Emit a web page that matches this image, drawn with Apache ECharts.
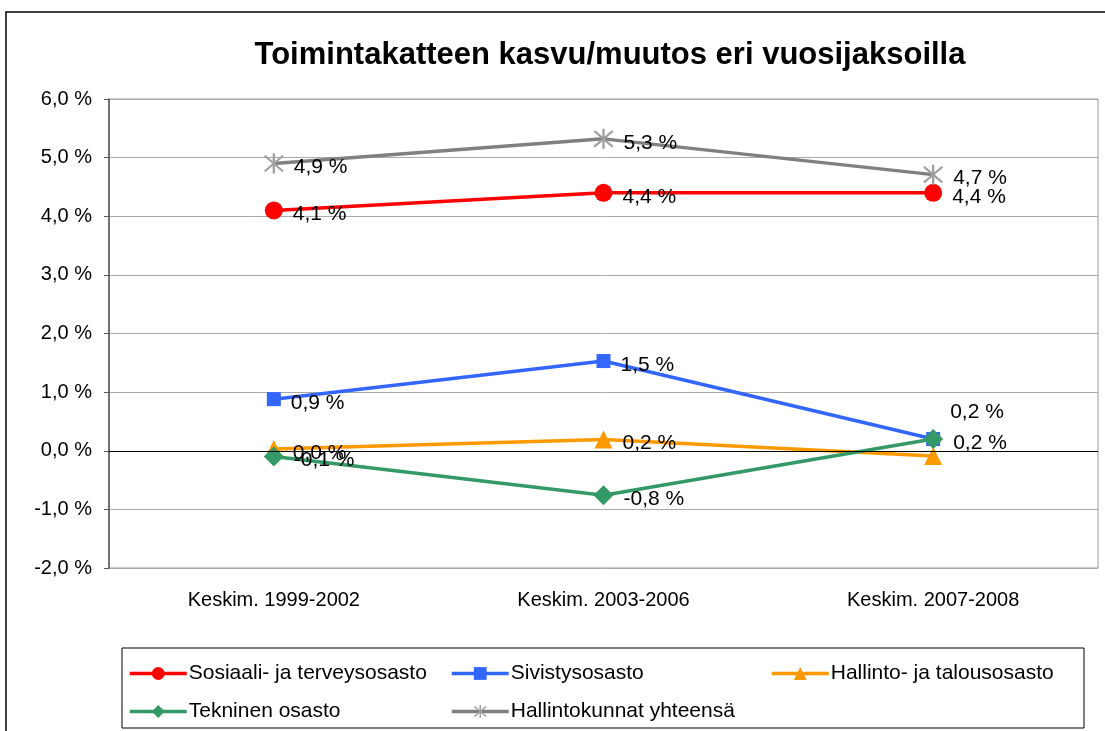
<!DOCTYPE html>
<html>
<head>
<meta charset="utf-8">
<script src="https://cdn.jsdelivr.net/npm/echarts@6/dist/echarts.min.js"></script>
<style>html,body{margin:0;padding:0;background:#fff}#c{width:1105px;height:731px}</style>
</head>
<body>
<div id="c"></div>
<script>
const categories = ['Keskim. 1999-2002', 'Keskim. 2003-2006', 'Keskim. 2007-2008'];
const seriesNames = ['Sosiaali- ja terveysosasto', 'Sivistysosasto', 'Hallinto- ja talousosasto', 'Tekninen osasto', 'Hallintokunnat yhteensä'];
const sosiaali = [4.1, 4.4, 4.4];
const sivistys = [0.88, 1.53, 0.2];
const hallinto = [0.03, 0.19, -0.09];
const tekninen = [-0.1, -0.76, 0.2];
const yhteensa = [4.9, 5.32, 4.71];
const yTicks = [-2, -1, 0, 1, 2, 3, 4, 5, 6];

const fmt = v => v.toFixed(1).replace('.', ',') + ' %';
const FONT = '"Liberation Sans", Arial, sans-serif';
const star = 'path://M9,0 L11,0 L11,20 L9,20 Z M1.4,2.8 L2.8,1.4 L18.6,17.2 L17.2,18.6 Z M17.2,1.4 L18.6,2.8 L2.8,18.6 L1.4,17.2 Z';

function mk(name, data, color, symbol, size, symColor) {
  return {
    name, type: 'line', data: data.map(v => ({value: v})),
    symbol, symbolSize: size,
    lineStyle: {color, width: 3.5},
    itemStyle: {color: symColor || color},
    label: {show: true, position: 'right', distance: 10, offset: [0, 4],
      fontFamily: FONT, fontSize: 21, color: '#000', formatter: p => fmt(p.value)},
    emphasis: {disabled: true}, animation: false
  };
}

const s1 = mk(seriesNames[0], sosiaali, '#ff0000', 'circle', 18);
const s2 = mk(seriesNames[1], sivistys, '#3366ff', 'rect', 14);
s2.data[2].label = {offset: [0, -27]};
const s3 = mk(seriesNames[2], hallinto, '#ff9900', 'triangle', 18);
s3.data[2].label = {show: false};
const s4 = mk(seriesNames[3], tekninen, '#339966', 'diamond', 20);
const s5 = mk(seriesNames[4], yhteensa, '#808080', star, 20, '#a0a0a0');
s1.markLine = {silent: true, symbol: 'none', label: {show: false},
  lineStyle: {color: '#000', width: 1, type: 'solid'}, data: [{yAxis: 0}]};

const legendPos = [[123, 658], [445, 658], [765, 658], [123, 696], [445, 696]];
const legends = seriesNames.map((n, i) => ({
  data: [n], left: legendPos[i][0], top: legendPos[i][1], orient: 'horizontal',
  itemWidth: 57, itemHeight: 16, itemGap: 5, selectedMode: false,
  lineStyle: {width: 3.5},
  textStyle: {fontFamily: FONT, fontSize: 21, color: '#000', padding: [0, 0, 0, -3]}
}));

const chart = echarts.init(document.getElementById('c'));
chart.setOption({
  backgroundColor: '#fff',
  animation: false,
  title: {text: 'Toimintakatteen kasvu/muutos eri vuosijaksoilla', left: 605, top: 35, textAlign: 'center',
    textStyle: {fontFamily: FONT, fontSize: 31, fontWeight: 'bold', color: '#000'}},
  legend: legends,
  grid: {left: 109, top: 99, width: 989, height: 469, show: true, borderColor: '#999', borderWidth: 1},
  xAxis: {type: 'category', data: categories, boundaryGap: true,
    axisLine: {lineStyle: {color: '#999'}}, axisTick: {show: false},
    axisLabel: {fontFamily: FONT, fontSize: 20, color: '#000', margin: 22}},
  yAxis: {type: 'value', min: -2, max: 6, interval: 1,
    axisLine: {show: true, lineStyle: {color: '#555', width: 1.5}},
    axisTick: {show: true, length: 5, lineStyle: {color: '#555'}},
    splitLine: {lineStyle: {color: '#aaa', width: 1}},
    axisLabel: {fontFamily: FONT, fontSize: 20, color: '#000', margin: 17, formatter: v => fmt(v)}},
  graphic: [
    {type: 'rect', shape: {x: 6, y: 12, width: 1200, height: 800}, style: {fill: 'none', stroke: '#000', lineWidth: 1.5}, silent: true, z: -10},
    {type: 'rect', shape: {x: 122, y: 648, width: 962, height: 80}, style: {fill: 'none', stroke: '#000', lineWidth: 1}, silent: true}
  ],
  series: [s1, s2, s3, s4, s5]
});
</script>
</body>
</html>
